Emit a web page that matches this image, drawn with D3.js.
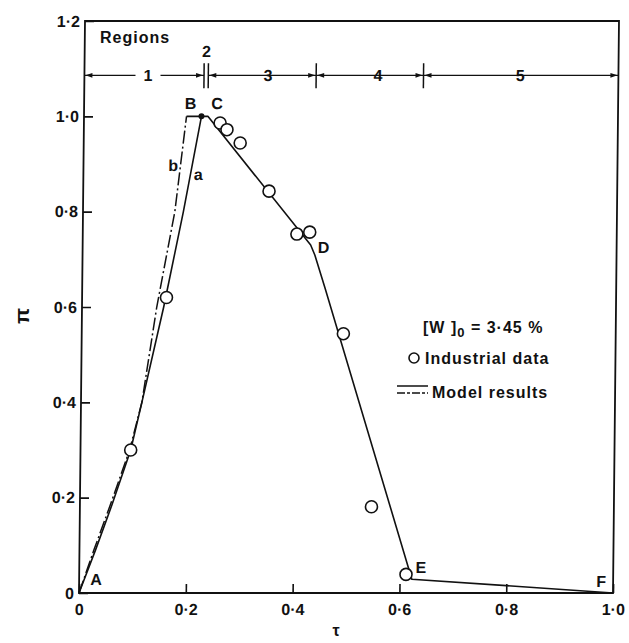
<!DOCTYPE html>
<html>
<head>
<meta charset="utf-8">
<script src="https://cdn.jsdelivr.net/npm/d3@7"></script>
<style>
  body { margin: 0; background: #fff; }
  svg { display: block; }
  text { font-family: "Liberation Sans", Arial, sans-serif; font-weight: bold; fill: #111; }
</style>
</head>
<body>
<div id="chart"></div>
<script>
// Axis ticks
const xTicks = [0, 0.2, 0.4, 0.6, 0.8, 1.0];
const yTicks = [0, 0.2, 0.4, 0.6, 0.8, 1.0, 1.2];

// Industrial measurements (tau, pi)
const industrialTau = [0.094, 0.158, 0.255, 0.268, 0.293, 0.348, 0.401, 0.425, 0.490, 0.546, 0.612];
const industrialPi  = [0.30, 0.62, 0.986, 0.972, 0.944, 0.843, 0.753, 0.757, 0.544, 0.181, 0.039];

// Model curve a (solid), A -> C -> D -> E -> F
const modelATau = [0, 0.03, 0.06, 0.094, 0.114, 0.153, 0.188, 0.220, 0.232, 0.427, 0.435, 0.455, 0.623, 1.0];
const modelAPi  = [0, 0.09, 0.185, 0.30, 0.40, 0.60, 0.80, 1.0, 1.0, 0.730, 0.709, 0.639, 0.029, 0.0];

// Model curve b (dash-dot), A -> B
const modelBTau = [0, 0.027, 0.057, 0.092, 0.114, 0.140, 0.172, 0.192];
const modelBPi  = [0, 0.09, 0.185, 0.30, 0.40, 0.60, 0.80, 1.0];

// Plateau from B to the top of curve a
const plateauTau = [0.192, 0.220];
const plateauPi  = [1.0, 1.0];

// Region boundaries along tau
const regionBounds  = [0, 0.224, 0.232, 0.434, 0.635, 1.0];
const regionNames   = ["1", "2", "3", "4", "5"];
const regionLabelAt = [0.119, 0.228, 0.344, 0.55, 0.816];
const regionLevel   = 1.086;

// Key points of the curves
const keyNames = ["A", "B", "C", "D", "E", "F"];
const keyTau   = [0, 0.192, 0.232, 0.427, 0.623, 1.0];
const keyPi    = [0, 1.0, 1.0, 0.730, 0.029, 0.0];

// Curve names
const curveNames = ["b", "a"];
const curveTau   = [0.168, 0.215];
const curvePi    = [0.885, 0.866];

const W = 629, H = 643;
const INK = "#111";

const x = d3.scaleLinear().domain([0, 1]).range([79, 613]);
const y = d3.scaleLinear().domain([0, 1.2]).range([593, 21]);

const svg = d3.select("#chart").append("svg")
  .attr("width", W).attr("height", H);

// the drawing leans slightly to the right at the top
const plot = svg.append("g")
  .attr("transform", `translate(0,${y(0)}) skewX(-0.6) translate(0,${-y(0)})`);

const fmt = v => v === 0 ? "0" : d3.format(".1f")(v).replace(".", "·");

// frame
plot.append("rect")
  .attr("x", x(0)).attr("y", y(1.2))
  .attr("width", x(1) - x(0)).attr("height", y(0) - y(1.2))
  .attr("fill", "none").attr("stroke", INK).attr("stroke-width", 1.8);

// axes with inward ticks
const xAxis = plot.append("g")
  .attr("transform", `translate(0,${y(0)})`)
  .call(d3.axisBottom(x).tickValues(xTicks).tickFormat(fmt)
    .tickSizeInner(-9).tickSizeOuter(0).tickPadding(11));
const yAxis = plot.append("g")
  .attr("transform", `translate(${x(0)},0)`)
  .call(d3.axisLeft(y).tickValues(yTicks).tickFormat(fmt)
    .tickSizeInner(-9).tickSizeOuter(0).tickPadding(5));
[xAxis, yAxis].forEach(g => {
  g.select(".domain").remove();
  g.attr("font-size", 16).attr("font-family", null);
  g.selectAll("line").attr("stroke", INK).attr("stroke-width", 1.6);
  g.selectAll("text").attr("fill", INK);
});

// region bar
const ry = y(regionLevel);
const regG = plot.append("g");
function arrowHead(g, xt, dir) {
  // filled head with its tip at xt, pointing in direction dir (+1 right, -1 left)
  const len = 7, hw = 2.4;
  g.append("path")
    .attr("d", `M${xt},${ry} L${xt - dir * len},${ry - hw} L${xt - dir * len},${ry + hw} Z`)
    .attr("fill", INK);
}
regionNames.forEach((name, i) => {
  const x0 = x(regionBounds[i]), x1 = x(regionBounds[i + 1]);
  const wide = x1 - x0 > 20;
  if (wide) {
    regG.append("line")
      .attr("x1", x0).attr("x2", x1).attr("y1", ry).attr("y2", ry)
      .attr("stroke", INK).attr("stroke-width", 1.4);
    arrowHead(regG, x0 + 1, -1);
    arrowHead(regG, x1 - 1, 1);
  }
  const t = regG.append("text")
    .attr("x", x(regionLabelAt[i]))
    .attr("y", wide ? ry : ry - 24)
    .attr("dy", "0.36em")
    .attr("text-anchor", "middle")
    .attr("font-size", 16)
    .text(name);
  if (wide) {
    const bb = t.node().getBBox();
    regG.insert("rect", "text")
      .attr("x", bb.x - 8).attr("y", ry - 4)
      .attr("width", bb.width + 16).attr("height", 8)
      .attr("fill", "#fff");
  }
});
regionBounds.slice(1, -1).forEach(b => {
  regG.append("line")
    .attr("x1", x(b)).attr("x2", x(b))
    .attr("y1", ry - 12).attr("y2", ry + 13)
    .attr("stroke", INK).attr("stroke-width", 1.5);
});

// model curves
const line = d3.line().x(d => x(d[0])).y(d => y(d[1]));
plot.append("path")
  .datum(d3.zip(modelBTau, modelBPi))
  .attr("d", line)
  .attr("fill", "none").attr("stroke", INK).attr("stroke-width", 1.5)
  .attr("stroke-dasharray", "13,3,2,3");
plot.append("path")
  .datum(d3.zip(plateauTau, plateauPi))
  .attr("d", line)
  .attr("fill", "none").attr("stroke", INK).attr("stroke-width", 1.6);
plot.append("path")
  .datum(d3.zip(modelATau, modelAPi))
  .attr("d", line)
  .attr("fill", "none").attr("stroke", INK).attr("stroke-width", 1.6)
  .attr("stroke-linejoin", "round");
plot.append("circle")
  .attr("cx", x(plateauTau[1])).attr("cy", y(plateauPi[1]))
  .attr("r", 3).attr("fill", INK);

// industrial data
plot.append("g").selectAll("circle")
  .data(d3.zip(industrialTau, industrialPi))
  .join("circle")
  .attr("cx", d => x(d[0])).attr("cy", d => y(d[1]))
  .attr("r", 6)
  .attr("fill", "#fff").attr("stroke", INK).attr("stroke-width", 1.6);

// key point letters
const keyOffsets = { A: [17, -8], B: [4, -7], C: [9, -7], D: [13, 8], E: [9, -6], F: [-12, -6] };
plot.append("g").selectAll("text")
  .data(keyNames)
  .join("text")
  .attr("x", (d, i) => x(keyTau[i]) + keyOffsets[d][0])
  .attr("y", (d, i) => y(keyPi[i]) + keyOffsets[d][1])
  .attr("text-anchor", "middle")
  .attr("font-size", 16)
  .text(d => d);

plot.append("g").selectAll("text")
  .data(curveNames)
  .join("text")
  .attr("x", (d, i) => x(curveTau[i]))
  .attr("y", (d, i) => y(curvePi[i]))
  .attr("text-anchor", "middle")
  .attr("font-size", 16)
  .text(d => d);

// heading and axis titles
svg.append("text")
  .attr("x", 100).attr("y", 43)
  .attr("font-size", 16).attr("letter-spacing", 1)
  .text("Regions");

svg.append("text")
  .attr("transform", "translate(29,316) rotate(-90)")
  .attr("text-anchor", "middle")
  .attr("font-size", 21).attr("font-weight", "normal")
  .text("π");

svg.append("text")
  .attr("x", 336).attr("y", 636)
  .attr("text-anchor", "middle")
  .attr("font-size", 16).attr("font-weight", "normal")
  .text("τ");

// legend
const lg = svg.append("g").attr("font-size", 16).attr("letter-spacing", 1);
const wt = lg.append("text").attr("x", 423).attr("y", 333);
wt.append("tspan").text("[W ]");
wt.append("tspan").attr("dy", 4).attr("font-size", 13).text("0");
wt.append("tspan").attr("dy", -4).text(" = 3·45 %");

lg.append("circle")
  .attr("cx", 414).attr("cy", 358).attr("r", 5)
  .attr("fill", "#fff").attr("stroke", INK).attr("stroke-width", 1.6);
lg.append("text").attr("x", 425).attr("y", 364).text("Industrial data");

lg.append("line")
  .attr("x1", 397).attr("x2", 428).attr("y1", 386).attr("y2", 386)
  .attr("stroke", INK).attr("stroke-width", 1.5);
lg.append("line")
  .attr("x1", 397).attr("x2", 428).attr("y1", 393).attr("y2", 393)
  .attr("stroke", INK).attr("stroke-width", 1.5)
  .attr("stroke-dasharray", "8,2,3,2");
lg.append("text").attr("x", 432).attr("y", 398).text("Model results");
</script>
</body>
</html>
